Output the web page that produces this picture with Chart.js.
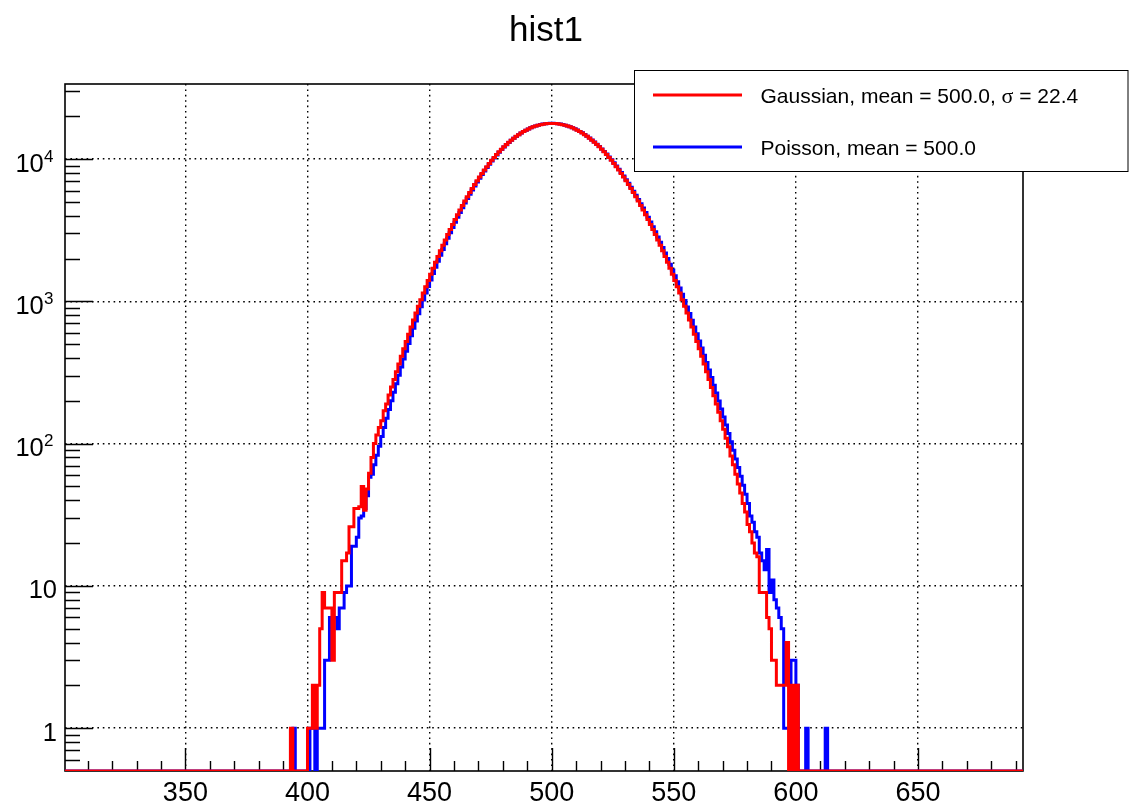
<!DOCTYPE html>
<html>
<head>
<meta charset="utf-8">
<script src="https://cdn.jsdelivr.net/npm/chart.js@4/dist/chart.umd.min.js"></script>
<style>
html,body{margin:0;padding:0;background:#fff;overflow:hidden}
canvas{display:block}
</style>
</head>
<body>
<canvas id="c" width="1129" height="802"></canvas>
<script>
// ---------------- data ----------------
const titleText = "hist1";
const firstBinLowEdge = 393;   // low edge of the first listed bin
const binWidth = 1;
// Gaussian (red) bin contents, bins 393 .. 612
const gaussianCounts = [
  1,0,0,0,0,0,0,1,1,2,
  1,2,5,9,7,7,7,3,9,9,
  9,15,15,17,26,26,35,35,36,50,
  34,48,62,80,100,115,130,145,170,190,
  220,250,282,320,363,411,464,523,588,660,
  740,827,923,1028,1143,1268,1403,1551,1710,1881,
  2066,2264,2477,2704,2945,3202,3475,3763,4067,4387,
  4723,5074,5441,5822,6218,6627,7049,7483,7928,8383,
  8846,9316,9792,10272,10754,11236,11716,12193,12663,13126,
  13578,14018,14443,14852,15242,15611,15957,16278,16573,16839,
  17076,17281,17454,17594,17699,17770,17806,17806,17770,17699,
  17594,17454,17281,17076,16839,16573,16278,15957,15611,15242,
  14852,14443,14018,13578,13126,12663,12193,11716,11236,10754,
  10272,9792,9316,8846,8383,7928,7483,7049,6627,6218,
  5822,5441,5074,4723,4387,4067,3763,3475,3202,2945,
  2704,2477,2264,2066,1881,1710,1551,1403,1268,1143,
  1028,923,827,740,660,588,523,464,411,363,
  320,282,248,217,190,166,145,126,109,95,
  82,71,61,52,45,38,33,27,24,20,
  17,16,9,9,9,6,5,3,3,2,
  2,2,2,4,0,2,0,2,0,0,
  0,0,0,0,0,0,0,0,0,0
];
// Poisson (blue) bin contents, bins 393 .. 612
const poissonCounts = [
  0,1,0,0,0,0,0,0,1,1,
  0,1,1,1,3,3,6,6,6,5,
  7,7,9,10,10,19,19,22,30,31,
  35,43,58,61,71,83,96,112,130,151,
  174,200,230,264,302,345,393,446,506,572,
  646,727,817,916,1024,1143,1273,1415,1568,1735,
  1915,2109,2317,2541,2780,3035,3306,3594,3898,4218,
  4555,4908,5277,5662,6062,6476,6904,7345,7797,8260,
  8731,9210,9695,10183,10674,11166,11655,12140,12620,13091,
  13552,14000,14433,14848,15245,15619,15970,16296,16595,16865,
  17104,17312,17487,17628,17734,17805,17841,17841,17805,17734,
  17629,17489,17315,17110,16874,16606,16313,15994,15650,15283,
  14895,14490,14068,13632,13184,12726,12260,11788,11313,10836,
  10360,9885,9414,8948,8490,8040,7599,7169,6750,6344,
  5951,5572,5208,4858,4524,4206,3902,3613,3339,3080,
  2836,2607,2391,2190,2002,1826,1663,1512,1372,1243,
  1123,1014,913,821,737,661,591,527,470,418,
  371,329,291,257,227,199,175,154,135,118,
  103,90,78,68,59,51,44,38,31,28,
  24,22,17,15,13,18,9,11,8,7,
  6,5,1,1,1,3,3,2,0,0,
  0,1,0,0,0,0,0,0,0,1
];
const seriesLabels = ["Gaussian, mean = 500.0, \u03c3 = 22.4", "Poisson, mean = 500.0"];
const seriesColors = ["#ff0000", "#0000ff"];
const xRange = [300.7, 693.0];
const yRange = [0.5, 33700];
const xTickValues = [350, 400, 450, 500, 550, 600, 650];
const xTickLabels = ["350", "400", "450", "500", "550", "600", "650"];
const xMinorStep = 10;
const yTickValues = [1, 10, 100, 1000, 10000];
const yTickLabels = ["1", "10", "10^2", "10^3", "10^4"];

// ---------------- helpers ----------------
const FONT = '"Liberation Sans", Helvetica, Arial, sans-serif';
function histPoints(counts) {
  const pts = [{x: xRange[0], y: yRange[0]}];
  counts.forEach((c, i) => pts.push({x: firstBinLowEdge + i * binWidth, y: c > 0 ? c : yRange[0]}));
  pts.push({x: firstBinLowEdge + counts.length * binWidth, y: yRange[0]});
  pts.push({x: xRange[1], y: yRange[0]});
  return pts;
}

const rootDecor = {
  id: 'rootDecor',
  beforeDatasetsDraw(chart) {
    const ctx = chart.ctx, a = chart.chartArea;
    const xs = chart.scales.x, ys = chart.scales.y;
    ctx.save();
    ctx.strokeStyle = '#000';
    // frame
    ctx.lineWidth = 1.6;
    ctx.strokeRect(a.left, a.top, a.right - a.left, a.bottom - a.top);
    // x ticks (inside, bottom)
    ctx.lineWidth = 1.4;
    ctx.beginPath();
    const xStart = Math.ceil(xRange[0] / xMinorStep) * xMinorStep;
    for (let v = xStart; v <= xRange[1]; v += xMinorStep) {
      const px = Math.round(xs.getPixelForValue(v)) + 0.5;
      const len = xTickValues.includes(v) ? 23 : 10;
      ctx.moveTo(px, a.bottom);
      ctx.lineTo(px, a.bottom - len);
    }
    // y ticks (inside, left)
    for (let e = -1; e <= 5; e++) {
      for (let m = 1; m <= 9; m++) {
        const v = m * Math.pow(10, e);
        if (v <= yRange[0] || v >= yRange[1]) continue;
        const py = Math.round(ys.getPixelForValue(v)) + 0.5;
        const len = m === 1 ? 28 : 15;
        ctx.moveTo(a.left, py);
        ctx.lineTo(a.left + len, py);
      }
    }
    ctx.stroke();
    ctx.restore();
  },
  afterDatasetsDraw(chart) {
    const ctx = chart.ctx, a = chart.chartArea;
    const xs = chart.scales.x, ys = chart.scales.y;
    ctx.save();
    ctx.fillStyle = '#000';
    // x tick labels
    ctx.font = '27px ' + FONT;
    ctx.textAlign = 'center';
    ctx.textBaseline = 'alphabetic';
    xTickValues.forEach((v, i) => {
      ctx.fillText(xTickLabels[i], xs.getPixelForValue(v), 801);
    });
    // y tick labels
    yTickValues.forEach((v, i) => {
      const py = ys.getPixelForValue(v);
      const lab = yTickLabels[i];
      ctx.textAlign = 'right';
      if (lab.indexOf('^') >= 0) {
        const [b, e] = lab.split('^');
        ctx.font = '17px ' + FONT;
        const ew = ctx.measureText(e).width;
        ctx.fillText(e, 53.5, py + 2.7);
        ctx.font = '25.5px ' + FONT;
        ctx.fillText(b, 53.5 - ew - 0.3, py + 12.6);
      } else {
        ctx.font = '25.5px ' + FONT;
        ctx.fillText(lab, 57, py + 12.6);
      }
    });
    // title
    ctx.font = '35px ' + FONT;
    ctx.textAlign = 'center';
    ctx.fillText(titleText, 546, 41);
    // legend box
    ctx.fillStyle = '#fff';
    ctx.fillRect(634.5, 70.5, 494, 101);
    ctx.strokeStyle = '#000';
    ctx.lineWidth = 1;
    ctx.strokeRect(634.5, 70.5, 493.5, 101);
    const rowsY = [95, 147];
    chart.data.datasets.forEach((ds, i) => {
      const y = rowsY[i];
      ctx.strokeStyle = ds.borderColor;
      ctx.lineWidth = 3;
      ctx.beginPath();
      ctx.moveTo(653, y);
      ctx.lineTo(742, y);
      ctx.stroke();
      ctx.fillStyle = '#000';
      ctx.textAlign = 'left';
      let x = 760.5;
      const parts = ds.label.split('\u03c3');
      parts.forEach((p, k) => {
        ctx.font = '21px ' + FONT;
        ctx.fillText(p, x, y + 8.3);
        x += ctx.measureText(p).width;
        if (k < parts.length - 1) {
          ctx.font = '22px "Liberation Serif", "DejaVu Serif", serif';
          ctx.fillText('\u03c3', x, y + 8.3);
          x += ctx.measureText('\u03c3').width;
        }
      });
    });
    ctx.restore();
  }
};

const chart = new Chart(document.getElementById('c'), {
  type: 'line',
  data: {
    datasets: [
      {
        label: seriesLabels[0],
        data: histPoints(gaussianCounts),
        borderColor: seriesColors[0],
        borderWidth: 3,
        stepped: 'before',
        pointRadius: 0,
        fill: false,
        borderJoinStyle: 'miter',
        borderCapStyle: 'butt'
      },
      {
        label: seriesLabels[1],
        data: histPoints(poissonCounts),
        borderColor: seriesColors[1],
        borderWidth: 3,
        stepped: 'before',
        pointRadius: 0,
        fill: false,
        borderJoinStyle: 'miter',
        borderCapStyle: 'butt'
      }
    ]
  },
  options: {
    responsive: false,
    animation: false,
    devicePixelRatio: 1,
    events: [],
    layout: {padding: {left: 65, right: 106, top: 84, bottom: 31}},
    plugins: {legend: {display: false}, title: {display: false}, tooltip: {enabled: false}},
    scales: {
      x: {
        type: 'linear',
        min: xRange[0],
        max: xRange[1],
        bounds: 'data',
        afterFit(s) { s.height = 0; },
        afterBuildTicks(s) { s.ticks = xTickValues.map(v => ({value: v})); },
        ticks: {display: false},
        grid: {color: '#000', lineWidth: 1.4, drawTicks: false},
        border: {display: false, dash: [1.6, 3.8]}
      },
      y: {
        type: 'logarithmic',
        min: yRange[0],
        max: yRange[1],
        bounds: 'data',
        afterFit(s) { s.width = 0; },
        afterBuildTicks(s) { s.ticks = yTickValues.map(v => ({value: v})); },
        ticks: {display: false},
        grid: {color: '#000', lineWidth: 1.4, drawTicks: false},
        border: {display: false, dash: [1.6, 3.8]}
      }
    }
  },
  plugins: [rootDecor]
});
</script>
</body>
</html>
